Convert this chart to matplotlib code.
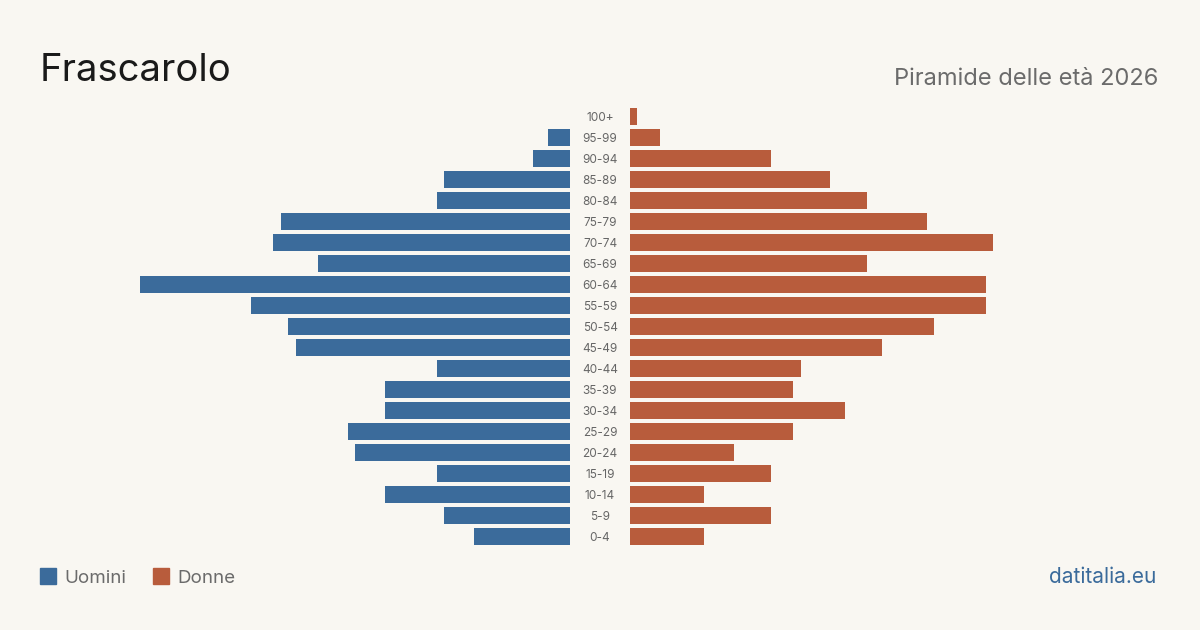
import numpy as np
import matplotlib.pyplot as plt

plt.rcParams['font.family'] = ['Inter', 'DejaVu Sans']

# age classes, top to bottom as in the picture
age_labels = ['100+', '95-99', '90-94', '85-89', '80-84', '75-79', '70-74',
              '65-69', '60-64', '55-59', '50-54', '45-49', '40-44', '35-39',
              '30-34', '25-29', '20-24', '15-19', '10-14', '5-9', '0-4']
uomini = [0, 3, 5, 17, 18, 39, 40, 34, 58, 43, 38, 37, 18, 25, 25, 30, 29, 18, 25, 17, 13]
donne = [1, 4, 19, 27, 32, 40, 49, 32, 48, 48, 41, 34, 23, 22, 29, 22, 14, 19, 10, 19, 10]

bg = '#f9f7f2'
blue = '#3b6b9b'
orange = '#b85c3c'

fig = plt.figure(figsize=(12, 6.3), dpi=100, facecolor=bg)

W, H = 1200, 630
top, bottom = 106, 547   # pixel extent of the rows
vmax = max(max(uomini), max(donne))

ax_l = fig.add_axes([140 / W, 1 - bottom / H, 430 / W, (bottom - top) / H])
ax_r = fig.add_axes([630 / W, 1 - bottom / H, 430 / W, (bottom - top) / H])

y = np.arange(len(age_labels))
for ax in (ax_l, ax_r):
    ax.set_facecolor(bg)
    ax.set_ylim(len(age_labels) - 0.5, -0.5)
    ax.axis('off')

ax_l.barh(y, uomini, height=0.8, color=blue)
ax_l.set_xlim(vmax, 0)
ax_r.barh(y, donne, height=0.8, color=orange)
ax_r.set_xlim(0, vmax)

# age labels in the gap between the two halves
for i, lab in enumerate(age_labels):
    ax_r.text(-30 / 430 * vmax, i + 0.05, lab, ha='center', va='center',
              fontsize=8.5, color='#666666')

fig.text(40 / W, 1 - 81 / H, 'Frascarolo', fontsize=27.5, color='#1a1a1a',
         va='baseline', ha='left')
fig.text(1158 / W, 1 - 85 / H, 'Piramide delle età 2026', fontsize=17,
         color='#6b6b6b', va='baseline', ha='right')

# legend
fig.patches.append(plt.Rectangle((40 / W, 1 - 584 / H), 16 / W, 16 / H,
                                 transform=fig.transFigure, color=blue))
fig.text(64 / W, 1 - 583 / H, 'Uomini', fontsize=13.5, color='#6b6b6b', va='baseline')
fig.patches.append(plt.Rectangle((153 / W, 1 - 584 / H), 16 / W, 16 / H,
                                 transform=fig.transFigure, color=orange))
fig.text(177 / W, 1 - 583 / H, 'Donne', fontsize=13.5, color='#6b6b6b', va='baseline')

fig.text(1156 / W, 1 - 583 / H, 'datitalia.eu', fontsize=15, color=blue,
         va='baseline', ha='right')

fig.savefig('out.png', dpi=100, facecolor=bg)
